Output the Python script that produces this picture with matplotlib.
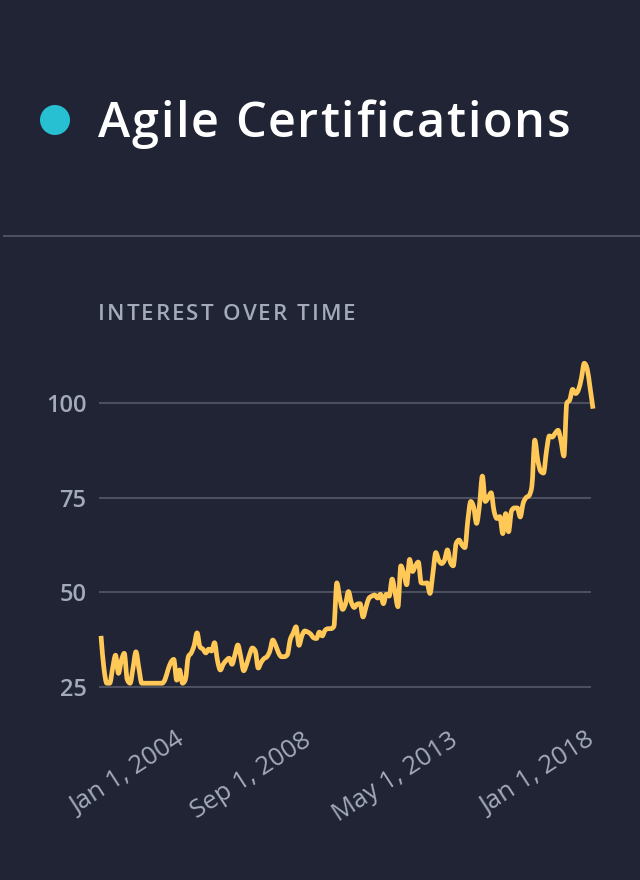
import matplotlib
matplotlib.use("Agg")
import numpy as np
import matplotlib.pyplot as plt
from matplotlib.patches import Ellipse, PathPatch
from matplotlib.lines import Line2D
from matplotlib.path import Path
from matplotlib.font_manager import FontProperties

plt.rcParams['font.family'] = ['Open Sans', 'DejaVu Sans']

# ---- data (monthly interest values) ----
title = "Agile Certifications"
subtitle = "INTEREST OVER TIME"
values = [
    38.5, 30, 26, 26, 30, 33.4, 28.6, 32, 33.9, 27,
    26, 30, 34.3, 30, 26, 26, 26, 26, 26, 26,
    26, 26, 27, 29.5, 31.5, 32.3, 26.8, 29.5, 26, 27,
    33, 34, 36, 39.3, 35.6, 35, 34, 35, 34.5, 36.7,
    32, 29.5, 31, 32, 32.6, 31, 33.5, 36.1, 33, 29.3,
    31, 33.5, 35.3, 34.5, 30, 31.5, 32.5, 33, 34.5, 37.4,
    36, 34, 33, 33, 33.5, 37.5, 39.2, 40.9, 36, 38.5,
    39.8, 39.5, 39, 38, 37.8, 39.5, 38.5, 40, 40.4, 40.4,
    41, 52.5, 48.5, 45.5, 47, 50.2, 47.3, 46, 46.9, 47,
    43.5, 46, 48.4, 49, 49.3, 48.5, 49.5, 47, 49.5, 49,
    53.5, 50, 46.2, 57, 55, 52, 58.7, 55.5, 57, 58,
    52.5, 52.4, 52.5, 49.7, 55, 60.5, 58.5, 57.6, 58.5, 61.2,
    58, 57, 62.9, 63.8, 62.5, 61.8, 69, 74, 72.5, 68.2,
    73, 80.7, 74, 75, 76.3, 71.5, 69.5, 70, 65.5, 70.8,
    66, 71.5, 72.3, 72.3, 69.9, 73.5, 75, 75.5, 78, 90.2,
    85, 82, 81.5, 87.2, 91.3, 91, 92, 92.8, 90, 86,
    100, 100.8, 103.6, 102.5, 103.5, 106.5, 110.5, 109, 104, 98.5,
]
months = list(range(len(values)))
tick_months = [25.4, 69.0, 119.5, 166.3]
tick_labels = ["Jan 1, 2004", "Sep 1, 2008", "May 1, 2013", "Jan 1, 2018"]
y_ticks = [25, 50, 75, 100]

BG = "#212435"
LINE = "#FFC857"
GRID = "#4b4f5e"
MUTED = "#a3aaba"

W, H = 640, 880
fig = plt.figure(figsize=(W / 100, H / 100), dpi=100, facecolor=BG)
renderer = fig.canvas.get_renderer()


def spaced_text(x_px, y_px, s, spacing_px, size, weight, color):
    fp = FontProperties(family=['Open Sans', 'DejaVu Sans'], size=size, weight=weight)
    ref_w = renderer.get_text_width_height_descent("I", fp, False)[0]
    for i, ch in enumerate(s):
        if ch == " ":
            continue
        w = renderer.get_text_width_height_descent(s[:i] + "I", fp, False)[0] - ref_w
        fig.text((x_px + w + i * spacing_px) / W, 1 - y_px / H, ch, color=color,
                 fontproperties=fp, va="baseline", ha="left")


# header
fig.add_artist(Ellipse((55 / W, 1 - 120 / H), 30 / W, 30 / H,
                       transform=fig.transFigure, color="#27c0d3", lw=0))
spaced_text(98, 137, title, 1.7, 35, "semibold", "white")
fig.add_artist(Line2D([4 / W, 1], [1 - 236 / H, 1 - 236 / H],
                      transform=fig.transFigure, color=GRID, lw=1.5))
spaced_text(98, 320, subtitle, 2.0, 16, "semibold", MUTED)

# axes placement (pixels)
ax_left, ax_right = 99, 591
y_lo, y_hi = 20, 115
px_per_unit = (687 - 403) / 75.0
bottom_px = 687 + (25 - y_lo) * px_per_unit
top_px = 403 - (y_hi - 100) * px_per_unit
ax = fig.add_axes([ax_left / W, 1 - bottom_px / H,
                   (ax_right - ax_left) / W, (bottom_px - top_px) / H])
ax.set_facecolor(BG)
ax.set_ylim(y_lo, y_hi)
px_per_month = (593 - 101) / (len(values) - 1)
ax.set_xlim(-(101 - ax_left) / px_per_month,
            (len(values) - 1) - (593 - ax_right) / px_per_month)

for v in y_ticks:
    ax.axhline(v, color=GRID, lw=1.5, zorder=1)

# smooth monotone-x curve through the data points
x = np.asarray(months, float)
y = np.asarray(values, float)
h = np.diff(x)
s = np.diff(y) / h
t = np.zeros_like(y)
for i in range(1, len(y) - 1):
    p = (s[i - 1] * h[i] + s[i] * h[i - 1]) / (h[i - 1] + h[i])
    t[i] = (np.sign(s[i - 1]) + np.sign(s[i])) * min(abs(s[i - 1]), abs(s[i]), 0.5 * abs(p))
t[0] = (3 * s[0] - t[1]) / 2
t[-1] = (3 * s[-1] - t[-2]) / 2
verts = [(x[0], y[0])]
codes = [Path.MOVETO]
for i in range(len(x) - 1):
    dx = (x[i + 1] - x[i]) / 3
    verts += [(x[i] + dx, y[i] + dx * t[i]), (x[i + 1] - dx, y[i + 1] - dx * t[i + 1]),
              (x[i + 1], y[i + 1])]
    codes += [Path.CURVE4] * 3
patch = PathPatch(Path(verts, codes), fill=False, edgecolor=LINE, lw=3.4,
                  joinstyle="round", capstyle="butt", clip_on=False, zorder=3)
ax.add_patch(patch)

for sp in ax.spines.values():
    sp.set_visible(False)
ax.set_yticks(y_ticks)
ax.set_yticklabels([str(v) for v in y_ticks], fontweight="semibold")
ax.tick_params(axis="y", length=0, pad=9, labelsize=17, labelcolor=MUTED)
ax.set_xticks(tick_months)
ax.set_xticklabels(tick_labels, rotation=33, ha="right", va="top",
                   rotation_mode="anchor", fontweight="medium")
ax.tick_params(axis="x", length=0, pad=16, labelsize=18.5, labelcolor=MUTED)

fig.savefig("out.png", dpi=100, facecolor=BG)
